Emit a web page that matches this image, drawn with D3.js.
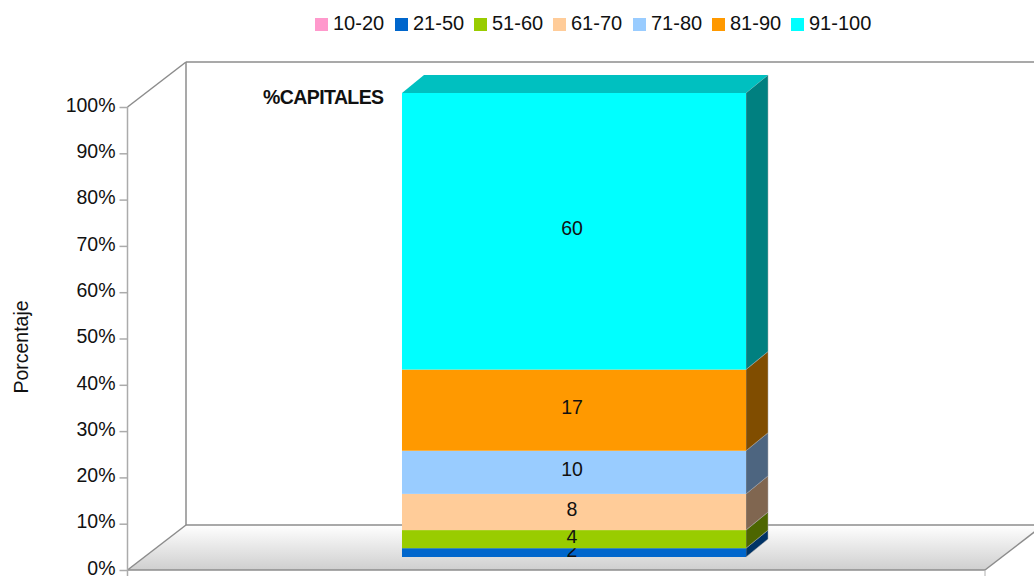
<!DOCTYPE html>
<html lang="es">
<head>
<meta charset="utf-8">
<title>% Capitales</title>
<script src="https://d3js.org/d3.v7.min.js"></script>
<style>
  html, body { margin: 0; padding: 0; background: #fff; overflow: hidden; }
  text { font-family: "Liberation Sans", Arial, sans-serif; fill: #111; }
</style>
</head>
<body>
<div id="chart"></div>
<script>
"use strict"
// datos
var categoria = "%CAPITALES";
var rangos = ["10-20", "21-50", "51-60", "61-70", "71-80", "81-90", "91-100"];
var valores = [0, 1.9, 3.9, 7.8, 9.3, 17.5, 59.6];
var etiquetas = ["", "2", "4", "8", "10", "17", "60"];
var colores = ["#ff99cc", "#0066cc", "#99cc00", "#ffcc99", "#99ccff", "#ff9900", "#00ffff"];
var colorLado = ["#804d66", "#003366", "#4d6600", "#806650", "#4d6580", "#804d00", "#008080"];
var ticksPct = [0, 10, 20, 30, 40, 50, 60, 70, 80, 90, 100];

var ancho = 1034, alto = 576;
var svg = d3.select("#chart").append("svg")
  .attr("width", ancho).attr("height", alto).style("display", "block");

// profundidad de la caja y de la barra
var fondo = {dx: 58.5, dy: -45}, prof = {dx: 22, dy: -18};

var y = d3.scaleLinear().domain([0, 100]).range([570, 107]);
var yBarra = d3.scaleLinear().domain([0, 1]).range([557, 93]);
var x = d3.scaleBand().domain([categoria]).range([145, 1003]).paddingOuter(0.747);
var frente = {izq: 127.5, der: 985};

var fila = {};
rangos.forEach(function(r, i) { fila[r] = valores[i]; });
var series = d3.stack().keys(rangos).offset(d3.stackOffsetExpand)([fila]);

var grad = svg.append("defs").append("linearGradient")
  .attr("id", "piso").attr("x1", 0).attr("x2", 0).attr("y1", 0).attr("y2", 1);
grad.append("stop").attr("offset", "0%").attr("stop-color", "#ffffff");
grad.append("stop").attr("offset", "100%").attr("stop-color", "#cfcfcf");

function puntos(arr) { return arr.map(function(p) { return p.join(","); }).join(" "); }

// piso
svg.append("polygon")
  .attr("points", puntos([
    [frente.izq, y(0)], [frente.der, y(0)],
    [frente.der + fondo.dx, y(0) + fondo.dy], [frente.izq + fondo.dx, y(0) + fondo.dy]]))
  .attr("fill", "url(#piso)");

// paredes
var gris = "#8c8c8c";
var lineas = [
  [frente.izq, y(100), frente.izq + fondo.dx, y(100) + fondo.dy],
  [frente.izq + fondo.dx, y(100) + fondo.dy, ancho, y(100) + fondo.dy],
  [frente.izq + fondo.dx, y(100) + fondo.dy, frente.izq + fondo.dx, y(0) + fondo.dy],
  [frente.izq + fondo.dx, y(0) + fondo.dy, ancho, y(0) + fondo.dy],
  [frente.izq, y(0), frente.izq + fondo.dx, y(0) + fondo.dy],
  [frente.izq, y(0), frente.der, y(0)],
  [frente.der, y(0), frente.der + fondo.dx, y(0) + fondo.dy]
];
svg.append("g").selectAll("line").data(lineas).enter().append("line")
  .attr("x1", function(d) { return d[0]; }).attr("y1", function(d) { return d[1]; })
  .attr("x2", function(d) { return d[2]; }).attr("y2", function(d) { return d[3]; })
  .attr("stroke", gris).attr("stroke-width", 1.5);

// marca inferior del eje x
svg.append("line").attr("x1", frente.der).attr("x2", frente.der)
  .attr("y1", y(0)).attr("y2", alto).attr("stroke", "#b0b0b0").attr("stroke-width", 1);

// eje y
var ejeY = svg.append("g")
  .attr("transform", "translate(" + frente.izq + ",0)")
  .call(d3.axisLeft(y).tickValues(ticksPct).tickSize(8).tickPadding(4)
    .tickFormat(function(d) { return d + "%"; }));
ejeY.select(".domain").remove();
ejeY.selectAll("line").attr("stroke", "#ababab").attr("stroke-width", 1.5);
ejeY.selectAll("text").style("font-size", "19.5px").attr("y", -2)
  .style("font-family", '"Liberation Sans", Arial, sans-serif').attr("fill", "#111");
svg.append("line").attr("x1", frente.izq).attr("x2", frente.izq)
  .attr("y1", y(100)).attr("y2", alto).attr("stroke", "#ababab").attr("stroke-width", 1.5);

// barra apilada
var xi = x(categoria), xd = xi + x.bandwidth();
var seg = svg.append("g").selectAll("g").data(series).enter().append("g")
  .filter(function(d) { return d[0][1] > d[0][0]; });

seg.append("polygon")
  .attr("points", function(d) {
    var a = yBarra(d[0][0]), b = yBarra(d[0][1]);
    return puntos([[xd, a], [xd + prof.dx, a + prof.dy], [xd + prof.dx, b + prof.dy], [xd, b]]);
  })
  .attr("fill", function(d) { return colorLado[d.index]; })
  .attr("stroke", "#a8a8a8").attr("stroke-width", 0.5);

seg.append("rect")
  .attr("x", xi).attr("width", x.bandwidth())
  .attr("y", function(d) { return yBarra(d[0][1]); })
  .attr("height", function(d) { return yBarra(d[0][0]) - yBarra(d[0][1]); })
  .attr("fill", function(d) { return colores[d.index]; });

// tapa superior
svg.append("polygon")
  .attr("points", puntos([
    [xi, yBarra(1)], [xd, yBarra(1)],
    [xd + prof.dx, yBarra(1) + prof.dy], [xi + prof.dx, yBarra(1) + prof.dy]]))
  .attr("fill", "#00c0c0");

// etiquetas de valor
seg.append("text")
  .attr("x", (xi + xd) / 2 - 2)
  .attr("y", function(d) { return (yBarra(d[0][0]) + yBarra(d[0][1])) / 2 + 4; })
  .attr("text-anchor", "middle").style("font-size", "19.5px")
  .text(function(d) { return etiquetas[d.index]; });

// nombre de la categoria
svg.append("text")
  .attr("x", 383.5).attr("y", 103.5).attr("text-anchor", "end")
  .style("font-size", "19.5px").style("font-weight", "bold").style("letter-spacing", "-0.6px")
  .text(categoria);

// titulo eje y
svg.append("text")
  .attr("transform", "translate(28,347) rotate(-90)")
  .attr("text-anchor", "middle").style("font-size", "19.5px")
  .text("Porcentaje");

// leyenda
var leyX = [315, 395, 474, 553, 633, 712, 791];
var ley = svg.append("g").selectAll("g").data(rangos).enter().append("g")
  .attr("transform", function(d, i) { return "translate(" + leyX[i] + ",18)"; });
ley.append("rect").attr("width", 13).attr("height", 13)
  .attr("fill", function(d, i) { return colores[i]; });
ley.append("text").attr("x", 18).attr("y", 11.5).style("font-size", "20px")
  .text(function(d) { return d; });
</script>
</body>
</html>
